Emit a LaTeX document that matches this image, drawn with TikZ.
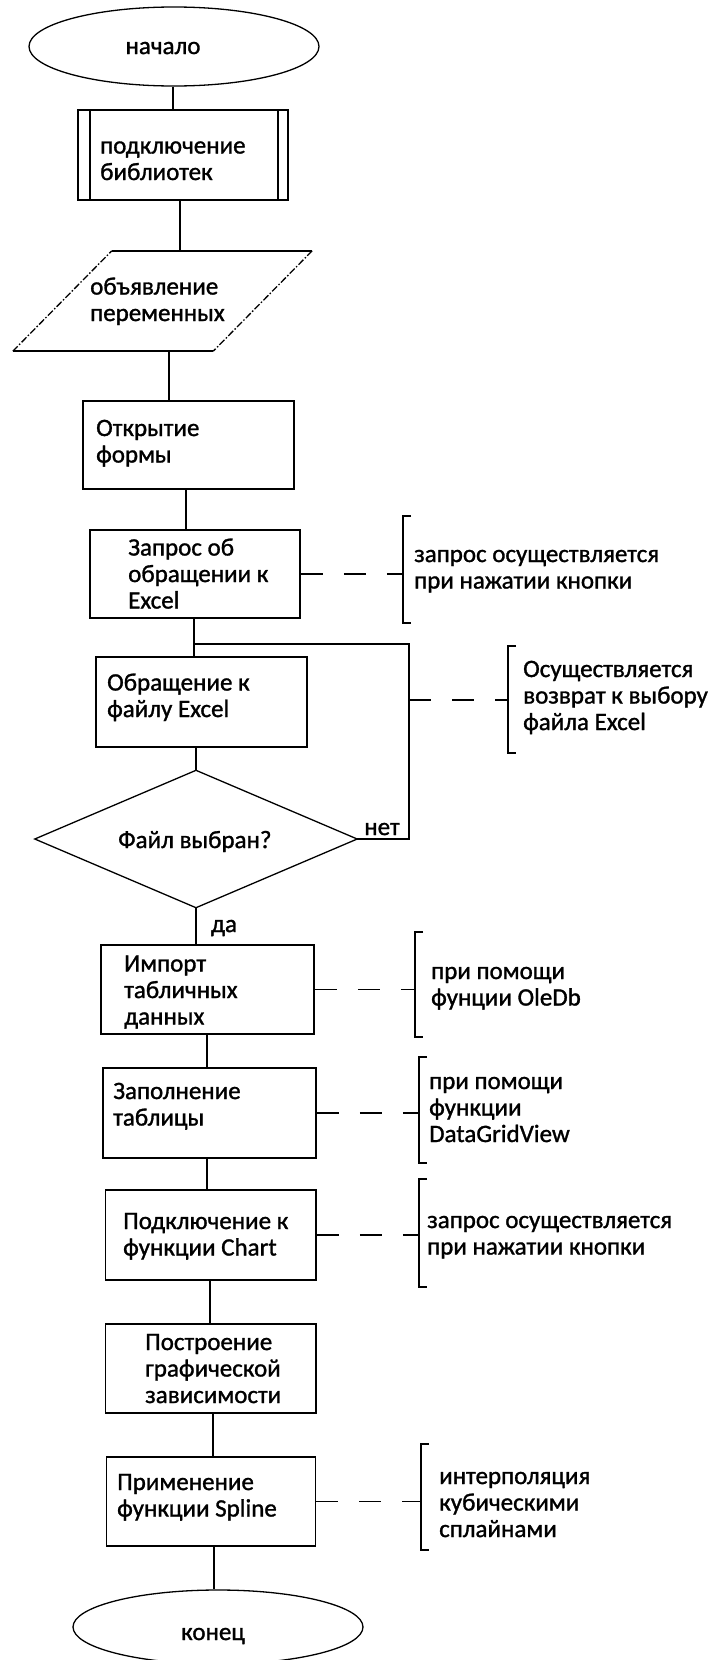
\documentclass[tikz,border=0pt]{standalone}
\usepackage{fontspec}
\setmainfont{Carlito}[FakeBold=1.2]
\usetikzlibrary{calc,shapes.geometric}
\tikzset{
  ln/.style={line width=1.9pt, black},
  thin ln/.style={line width=1.3pt, black},
  stepbox/.style={draw, ln, rectangle, inner sep=0pt},
  holder/.style={draw=none, rectangle, inner sep=0pt},
  txt/.style={anchor=base west, align=left, inner sep=0pt, font=\fontsize{25}{26.5}\selectfont},
  ctxt/.style={anchor=base, inner sep=0pt, font=\fontsize{25}{26.5}\selectfont},
  note/.style={dash pattern=on 22pt off 21pt, ln},
  brk/.style={ln},
  slant/.style={line width=1.3pt, dash pattern=on 7pt off 2pt on 1.5pt off 2pt},
}
\begin{document}
\begin{tikzpicture}[x=1pt, y=-1pt]
\useasboundingbox (0,0) rectangle (708,1660);
\fill[white] (0,0) rectangle (708,1660);
\clip (0,0) rectangle (708,1660);

% start / end
\node[draw, thin ln, ellipse, minimum width=290pt, minimum height=79pt, inner sep=0pt] (start) at (174,46.5) {};
\node[ctxt] (startT) at (163,54) {начало};
\node[draw, thin ln, ellipse, minimum width=290pt, minimum height=74pt, inner sep=0pt] (fin) at (218,1627) {};
\node[ctxt] (finT) at (213,1640) {конец};

% subroutine box
\node[stepbox, minimum width=210pt, minimum height=90pt] (sub) at (183,155) {};
\draw[ln] ([xshift=13pt]sub.north west) -- ([xshift=13pt]sub.south west);
\draw[ln] ([xshift=-11pt]sub.north east) -- ([xshift=-11pt]sub.south east);
\node[txt] (subT) at (100,180) {подключение\\библиотек};

% parallelogram
\node[holder, minimum width=200pt, minimum height=100pt] (para) at (162.5,301) {};
\coordinate (pTL) at ([xshift=49.5pt]para.north west);
\coordinate (pTR) at ([xshift=49.5pt]para.north east);
\coordinate (pBL) at ([xshift=-49.5pt]para.south west);
\coordinate (pBR) at ([xshift=-49.5pt]para.south east);
\draw[ln] (pTL) -- (pTR);
\draw[ln] (pBL) -- (pBR);
\draw[slant] (pTR) -- (pBR);
\draw[slant] (pBL) -- (pTL);
\node[txt] (paraT) at (90,321) {объявление\\переменных};

% process boxes
\node[stepbox, minimum width=210.5pt, minimum height=88pt] (otkr) at (188.5,445) {};
\node[txt] (otkrT) at (96,462.5) {Открытие\\формы};
\node[stepbox, minimum width=210pt, minimum height=88pt] (zapr) at (195,574) {};
\node[txt] (zaprT) at (128,608.5) {Запрос об\\обращении к\\Excel};
\node[stepbox, minimum width=211pt, minimum height=90pt] (obr) at (201.5,702) {};
\node[txt] (obrT) at (107,717) {Обращение к\\файлу Excel};

% decision
\node[holder, minimum width=322pt, minimum height=137pt] (dec) at (196,839) {};
\draw[thin ln] (dec.north) -- (dec.east) -- (dec.south) -- (dec.west) -- cycle;
\node[txt] (decT) at (118,848) {Файл выбран?};
\node[ctxt] (net) at (382,835) {нет};
\node[ctxt] (da) at (224,932) {да};

\node[stepbox, minimum width=213pt, minimum height=89pt] (imp) at (207.5,989.5) {};
\node[txt] (impT) at (124,1024.5) {Импорт\\табличных\\данных};
\node[stepbox, minimum width=213pt, minimum height=90pt] (zap) at (209.5,1113) {};
\node[txt] (zapT) at (113,1125.5) {Заполнение\\таблицы};
\node[stepbox, minimum width=210.5pt, minimum height=90pt] (podk) at (210.75,1235) {};
\node[txt] (podkT) at (123,1255.5) {Подключение к\\функции Chart};
\node[stepbox, minimum width=210.5pt, minimum height=89pt] (post) at (210.75,1368.5) {};
\node[txt] (postT) at (145,1403) {Построение\\графической\\зависимости};
\node[stepbox, minimum width=209pt, minimum height=89pt] (prim) at (211,1501.5) {};
\node[txt] (primT) at (117,1516.5) {Применение\\функции Spline};

% connectors
\draw[ln] (start.south -| 173,0) -- (sub.north -| 173,0);
\draw[ln] (sub.south -| 180,0) -- (pTL -| 180,0);
\draw[ln] (pBL -| 169,0) -- (otkr.north -| 169,0);
\draw[ln] (otkr.south -| 186,0) -- (zapr.north -| 186,0);
\draw[ln] (zapr.south -| 194,0) -- (obr.north -| 194,0);
\draw[ln] (obr.south -| dec.north) -- (dec.north);
\draw[ln] (dec.south) -- (imp.north -| dec.south);
\draw[ln] (imp.south -| 207,0) -- (zap.north -| 207,0);
\draw[ln] (zap.south -| 207,0) -- (podk.north -| 207,0);
\draw[ln] (podk.south -| 210,0) -- (post.north -| 210,0);
\draw[ln] (post.south -| 213,0) -- (prim.north -| 213,0);
\draw[ln] (prim.south -| 214,0) -- (fin.north -| 214,0);

% loop back
\coordinate (loopA) at (194,644);
\coordinate (loopB) at (409,644);
\coordinate (loopC) at (409,839);
\draw[ln] (dec.east) -- (loopC) -- (loopB) -- (loopA);

% brackets
\node[holder, minimum width=8pt, minimum height=107pt] (b1) at (407,569.5) {};
\node[holder, minimum width=8pt, minimum height=106pt] (b2) at (512,699.5) {};
\node[holder, minimum width=8pt, minimum height=105pt] (b3) at (419,984.5) {};
\node[holder, minimum width=8pt, minimum height=106pt] (b4) at (423,1110) {};
\node[holder, minimum width=8pt, minimum height=108pt] (b5) at (423,1233) {};
\node[holder, minimum width=8pt, minimum height=106pt] (b6) at (425,1497) {};
\foreach \b in {b1,b2,b3,b4,b5,b6}{
  \draw[brk] (\b.north east) -- (\b.north west) -- (\b.south west) -- (\b.south east);
}
\coordinate (n2) at (409,700);
\draw[note] (zapr.east) -- (zapr.east -| b1.west);
\draw[note] (n2) -- (n2 -| b2.west);
\draw[note] (imp.east) -- (imp.east -| b3.west);
\draw[note] (zap.east) -- (zap.east -| b4.west);
\draw[note] (podk.east) -- (podk.east -| b5.west);
\draw[note] (prim.east) -- (prim.east -| b6.west);

% annotation texts
\node[txt] (a1) at (414,588.5) {запрос осуществляется\\при нажатии кнопки};
\node[txt] (a2) at (523,730) {Осуществляется\\возврат к выбору\\файла Excel};
\node[txt] (a3) at (431,1005.5) {при помощи\\фунции OleDb};
\node[txt] (a4) at (429,1142) {при помощи\\функции\\DataGridView};
\node[txt] (a5) at (427,1254.5) {запрос осуществляется\\при нажатии кнопки};
\node[txt] (a6) at (439,1537) {интерполяция\\кубическими\\сплайнами};
\end{tikzpicture}
\end{document}
